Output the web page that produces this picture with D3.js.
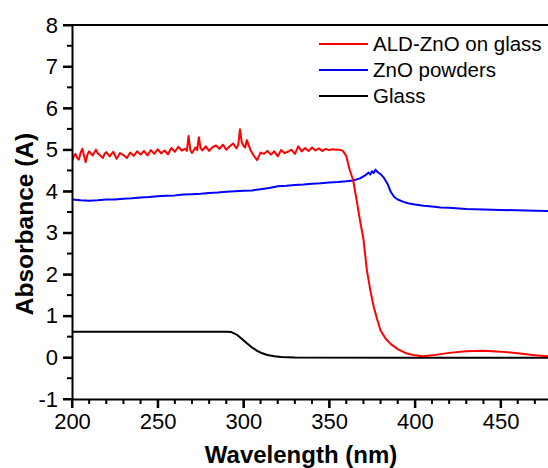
<!DOCTYPE html>
<html><head><meta charset="utf-8">
<script src="https://cdn.jsdelivr.net/npm/d3@7"></script>
<style>
html,body{margin:0;padding:0;background:#fff;}
svg{display:block;}
text{font-family:"Liberation Sans",Arial,sans-serif;fill:#000;}
</style></head>
<body>
<svg id="chart" width="548" height="468"></svg>
<script>
// ---- data ----
const seriesNames = ["ALD-ZnO on glass", "ZnO powders", "Glass"];
const seriesColors = ["#ff0000", "#0000ff", "#000000"];

const aldZnO = [
 [200,4.71],[201,4.84],[202,4.90],[203,4.80],[204,4.76],[205,4.92],[206,5.02],[207,4.86],[208,4.70],[209,4.88],
 [210,4.96],[212,4.86],[213,4.93],[214,5.00],[215,4.91],
 [216,4.88],[218,4.80],[219,4.90],[220,4.94],[222,4.84],[224,4.95],[225,4.87],[226,4.78],[228,4.92],[230,4.87],
 [232,4.80],[234,4.93],[236,4.85],[238,4.96],[240,4.88],[242,4.97],[244,4.86],[246,4.99],
 [248,4.90],[250,5.01],[252,4.91],[254,4.98],[256,4.89],[258,5.04],[260,4.95],[262,5.07],
 [264,4.98],[266,5.02],[267,4.97],[268,5.33],[269,5.00],[270,4.92],[272,5.05],[273,4.99],[274,5.30],[275,5.04],[276,4.98],[278,5.08],
 [280,4.97],[282,5.06],[284,5.10],[286,5.02],[288,5.12],[290,5.00],[292,5.08],[294,5.15],
 [296,5.03],[297,5.12],[298,5.49],[299,5.18],[300,5.10],[301,5.05],[302,5.23],[304,5.00],[306,4.86],[308,4.75],[310,4.93],
 [312,4.90],[314,4.97],[316,4.88],[318,4.96],[320,4.84],[322,4.99],[324,4.92],[326,4.95],
 [328,5.00],[330,4.90],[332,5.08],[334,4.96],[336,5.04],[338,4.97],[340,5.05],[342,4.98],
 [344,5.03],[346,4.97],[348,5.02],[350,4.99],[352,5.01],[354,5.00],[356,5.00],[358,4.97],
 [360,4.85],[362,4.51],[364,4.27],[366,3.79],[368,3.30],[370,2.85],[372,2.10],[374,1.62],
 [376,1.22],[378,0.92],[380,0.65],[383,0.45],[386,0.32],[390,0.20],[395,0.10],[400,0.05],
 [405,0.03],[410,0.05],[415,0.08],[420,0.11],[430,0.15],[440,0.16],[450,0.14],[460,0.10],
 [470,0.05],[480,0.02]
];

const znoPowders = [
 [200,3.80],[205,3.78],[210,3.77],[215,3.78],[220,3.80],[225,3.80],[230,3.82],[235,3.83],
 [240,3.85],[245,3.86],[250,3.88],[255,3.89],[260,3.90],[265,3.92],[270,3.93],[275,3.94],
 [280,3.96],[285,3.97],[290,3.99],[295,4.00],[300,4.01],[305,4.02],[310,4.05],[315,4.08],
 [320,4.12],[325,4.13],[330,4.15],[335,4.16],[340,4.18],[345,4.19],[350,4.21],[355,4.22],
 [360,4.24],[364,4.26],[368,4.31],[371,4.38],[373,4.45],[374,4.40],[375,4.48],[376,4.44],
 [377,4.52],[378,4.47],[380,4.41],[382,4.32],[384,4.18],[386,3.98],[388,3.86],[390,3.80],
 [393,3.75],[396,3.71],[400,3.68],[405,3.65],[410,3.63],[415,3.61],[420,3.60],[430,3.57],
 [440,3.56],[450,3.55],[460,3.54],[470,3.53],[480,3.52]
];

const glass = [
 [200,0.62],[290,0.62],[293,0.61],[296,0.55],[299,0.45],[302,0.34],[305,0.24],[308,0.16],
 [311,0.10],[314,0.06],[318,0.03],[322,0.01],[330,0.00],[400,-0.01],[480,-0.01]
];

const xTickValues = [200, 250, 300, 350, 400, 450];
const yTickValues = [-1, 0, 1, 2, 3, 4, 5, 6, 7, 8];
const xTitle = "Wavelength (nm)";
const yTitle = "Absorbance (A)";

// ---- chart ----
(function(){
const svg = d3.select("#chart");
const mLeft = 72, mRight = 552, mTop = 25, mBottom = 399;
const x = d3.scaleLinear().domain([200, 480]).range([mLeft, mRight]);
const y = d3.scaleLinear().domain([-1, 8]).range([mBottom, mTop]);

const line = d3.line().x(d => x(d[0])).y(d => y(d[1]));
const plot = svg.append("g");
plot.append("clipPath").attr("id","clip").append("rect")
  .attr("x", mLeft).attr("y", mTop).attr("width", mRight-mLeft).attr("height", mBottom-mTop);

[[glass,2],[znoPowders,1],[aldZnO,0]].forEach(([s, ci]) => {
  plot.append("path").datum(s)
    .attr("clip-path","url(#clip)")
    .attr("d", line).attr("fill","none")
    .attr("stroke", seriesColors[ci]).attr("stroke-width", 2)
    .attr("stroke-linejoin","round");
});

const xMinor = d3.range(200, 481, 10).filter(v => v % 50 !== 0);
const yMinor = d3.range(-0.5, 8, 1);

const ticks = svg.append("g").attr("stroke","#000").attr("stroke-width",2);
xTickValues.forEach(v => ticks.append("line").attr("x1", x(v)).attr("x2", x(v)).attr("y1", mBottom).attr("y2", mBottom+9));
xMinor.forEach(v => ticks.append("line").attr("x1", x(v)).attr("x2", x(v)).attr("y1", mBottom).attr("y2", mBottom+5));
yTickValues.forEach(v => ticks.append("line").attr("y1", y(v)).attr("y2", y(v)).attr("x1", mLeft).attr("x2", mLeft-9));
yMinor.forEach(v => ticks.append("line").attr("y1", y(v)).attr("y2", y(v)).attr("x1", mLeft).attr("x2", mLeft-5));

const fmt = v => String(v);
const xAxis = svg.append("g").attr("transform", `translate(0,${mBottom})`)
  .call(d3.axisBottom(x).tickValues(xTickValues).tickFormat(fmt).tickSize(9).tickPadding(5).tickSizeOuter(0));
const yAxis = svg.append("g").attr("transform", `translate(${mLeft},0)`)
  .call(d3.axisLeft(y).tickValues(yTickValues).tickFormat(fmt).tickSize(9).tickPadding(5).tickSizeOuter(0));

[xAxis, yAxis].forEach(g => {
  g.select(".domain").attr("stroke","#000").attr("stroke-width",2);
  g.selectAll(".tick line").attr("stroke","#000").attr("stroke-width",2);
  g.selectAll(".tick text").style("font-family","'Liberation Sans',Arial,sans-serif")
    .style("font-size","22px").attr("fill","#000");
});

svg.append("line").attr("x1", mLeft).attr("x2", 548).attr("y1", mTop).attr("y2", mTop)
  .attr("stroke","#000").attr("stroke-width",2);

svg.append("text").attr("x", 301).attr("y", 463).attr("text-anchor","middle")
  .style("font-size","24px").style("font-weight","bold").text(xTitle);
svg.append("text").attr("transform","translate(33,224) rotate(-90)").attr("text-anchor","middle")
  .style("font-size","24.5px").style("font-weight","bold").text(yTitle);

const legend = svg.append("g");
seriesNames.forEach((n, i) => {
  const ly = 44 + i * 26;
  legend.append("line").attr("x1", 319).attr("x2", 368).attr("y1", ly).attr("y2", ly)
    .attr("stroke", seriesColors[i]).attr("stroke-width", 2);
  legend.append("text").attr("x", 373).attr("y", ly).attr("dy","0.35em")
    .style("font-size","20.5px").text(n);
});
})();
</script>
</body></html>
